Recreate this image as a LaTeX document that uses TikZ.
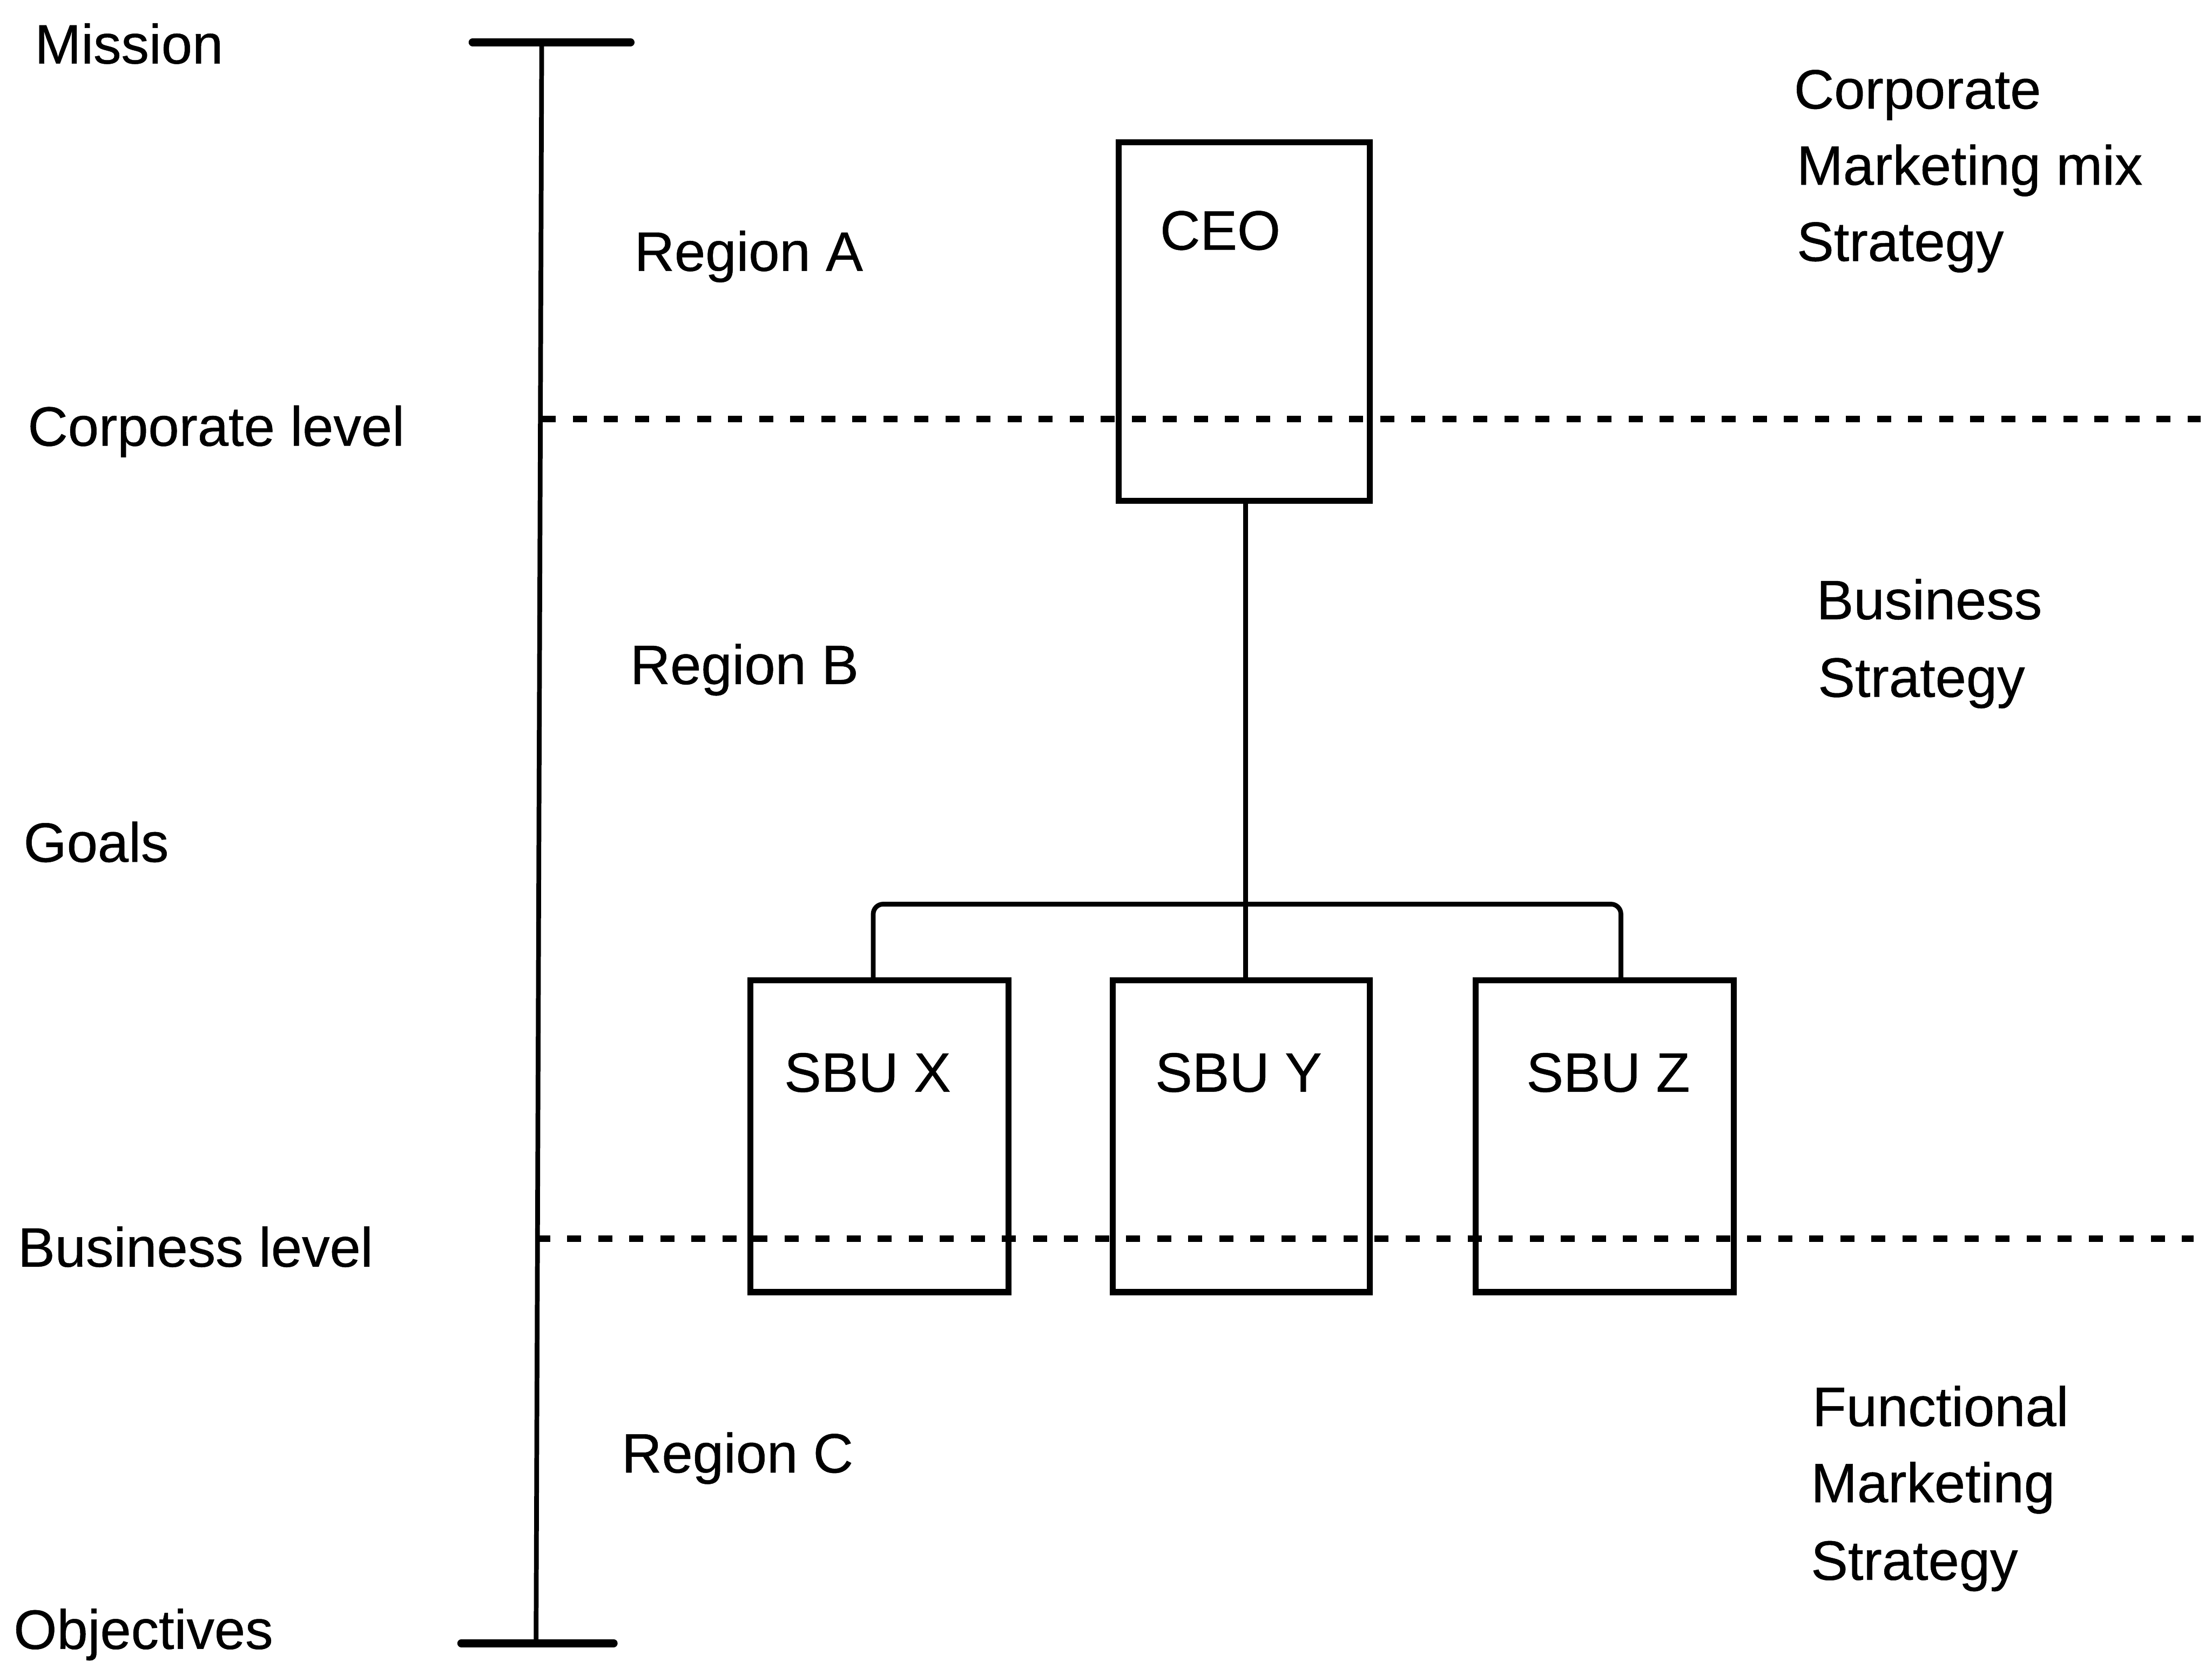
\documentclass[tikz,border=0pt]{standalone}
\usepackage{fontspec}
\setmainfont{Liberation Sans}[FakeBold=0.5]
\begin{document}
\begin{tikzpicture}[x=0.01cm, y=-0.01cm,
  every node/.style={font=\fontsize{11.2}{13.4}\selectfont},
  txt/.style={inner sep=0pt, anchor=base west},
  ctxt/.style={inner sep=0pt, anchor=base},
  unitbox/.style={draw, line width=1.2pt, rectangle, inner sep=0pt},
  axis/.style={line width=0.95pt},
  endbar/.style={line width=1.6pt, line cap=round},
  link/.style={line width=0.95pt},
  levelline/.style={line width=1.3pt, dash pattern=on 0.1cm off 0.12cm}]
\useasboundingbox (0,0) rectangle (1568,1178);

% vertical scale with end bars
\coordinate (axtop) at (384,30);
\coordinate (axbot) at (380,1165);
\draw[axis] (axtop) -- (axbot);
\draw[endbar] (335,30) -- (447,30);
\draw[endbar] (327,1165) -- (435,1165);

% level separators
\draw[levelline] (384,297) -- (1560,297);
\draw[levelline] (380,878) -- (1555,878);

% organisation boxes
\node[unitbox, minimum width=1.78cm, minimum height=2.54cm] (ceo) at (882,228) {};
\node[unitbox, minimum width=1.83cm, minimum height=2.21cm] (sbux) at (623.5,805.5) {};
\node[unitbox, minimum width=1.82cm, minimum height=2.21cm] (sbuy) at (880,805.5) {};
\node[unitbox, minimum width=1.83cm, minimum height=2.21cm] (sbuz) at (1137.5,805.5) {};

\node[ctxt] (ceot) at (865,177) {CEO};
\node[ctxt] (sbuxt) at (615,774) {SBU X};
\node[ctxt] (sbuyt) at (878,774) {SBU Y};
\node[ctxt] (sbuzt) at (1140,774) {SBU Z};

% reporting lines
\coordinate (jx) at (619,641);
\coordinate (jy) at (883,641);
\coordinate (jz) at (1149,641);
\draw[link] (jy |- ceo.south) -- (jy |- sbuy.north);
\draw[link, rounded corners=2pt] (jx |- sbux.north) -- (jx) -- (jz) -- (jz |- sbuz.north);

% scale labels
\node[txt] (mission) at (24,45) {Mission};
\node[txt] (corplevel) at (19,316) {Corporate level};
\node[txt] (goals) at (16,611) {Goals};
\node[txt] (buslevel) at (12,898) {Business level};
\node[txt] (objectives) at (9,1169) {Objectives};

% regions
\node[txt] (rega) at (449,192) {Region A};
\node[txt] (regb) at (446,485) {Region B};
\node[txt] (regc) at (440,1044) {Region C};

% strategy labels
\node[txt] (s1a) at (1271,77) {Corporate};
\node[txt] (s1b) at (1273,131) {Marketing mix};
\node[txt] (s1c) at (1273,185) {Strategy};
\node[txt] (s2a) at (1287,439) {Business};
\node[txt] (s2b) at (1288,494) {Strategy};
\node[txt] (s3a) at (1284,1011) {Functional};
\node[txt] (s3b) at (1283,1065) {Marketing};
\node[txt] (s3c) at (1283,1120) {Strategy};
\end{tikzpicture}
\end{document}
